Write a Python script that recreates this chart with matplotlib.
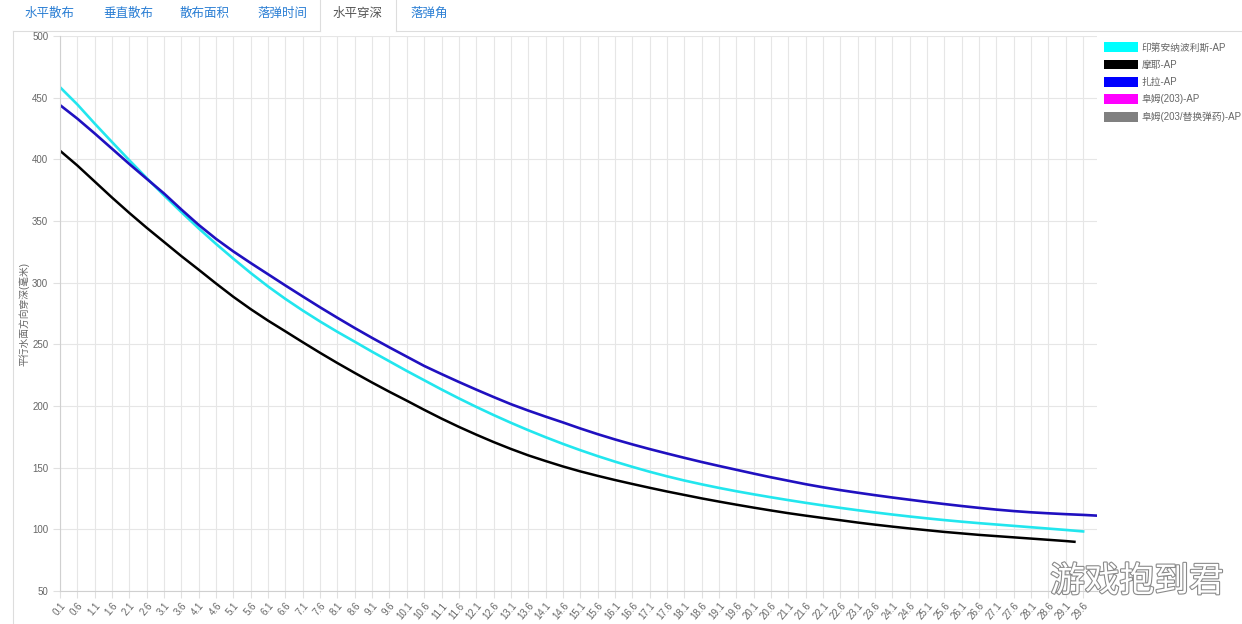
import matplotlib
matplotlib.use("Agg")
import matplotlib.pyplot as plt
from matplotlib.lines import Line2D
from matplotlib.patches import Patch
import matplotlib.patheffects as pe

plt.rcParams['font.family'] = ['Liberation Sans', 'Noto Sans CJK SC', 'DejaVu Sans']

# distance labels (km), one every 0.5 km as shown on the axis
dist = [round(0.1 + 0.5 * i, 1) for i in range(60)]  # 0.1 ... 29.6

# 印第安纳波利斯-AP, ends at 29.6
indy = [458.5, 444.5, 429, 414, 399.2, 384.8, 370.8, 357.2, 344.0, 331.4,
        319.4, 307.8, 296.9, 286.8, 277.4, 268.5, 260.1, 252.1, 244.0, 236.2,
        228.4, 220.9, 213.4, 206.2, 199.3, 192.7, 186.4, 180.4, 174.7, 169.3,
        164.2, 159.4, 154.9, 150.7, 146.7, 143.0, 139.6, 136.5, 133.6, 130.9,
        128.4, 126.0, 123.7, 121.5, 119.4, 117.4, 115.5, 113.7, 112.0, 110.4,
        108.9, 107.5, 106.2, 105.0, 103.9, 102.8, 101.7, 100.6, 99.5, 98.3]

# 摩耶-AP, ends at 29.35
maya = [407, 395, 382, 369, 356.5, 344.5, 333, 321.5, 310.5, 299.3,
        288.5, 278.5, 269.2, 260.5, 251.7, 243.1, 234.8, 226.8, 219.0, 211.5,
        204.3, 196.9, 189.8, 183.1, 176.8, 170.8, 165.2, 160.0, 155.4, 151.0,
        147.0, 143.4, 140.0, 136.8, 133.7, 130.7, 127.9, 125.1, 122.5, 120.0,
        117.6, 115.3, 113.1, 111.1, 109.2, 107.4, 105.5, 103.8, 102.2, 100.7,
        99.3, 97.9, 96.7, 95.5, 94.5, 93.5, 92.5, 91.5, 90.5]
maya_end = (29.35, 89.9)

# 扎拉-AP, ends at 30.0
zara = [444, 433, 421, 408.6, 396.2, 384.2, 372.3, 359.3, 346.8, 335.5,
        325.3, 315.9, 306.8, 297.7, 288.8, 280.0, 271.5, 263.2, 255.2, 247.5,
        240.0, 232.5, 225.9, 219.5, 213.3, 207.3, 201.5, 196.3, 191.4, 186.7,
        181.8, 177.2, 172.9, 168.9, 165.1, 161.5, 158.0, 154.6, 151.4, 148.3,
        145.2, 142.2, 139.4, 136.6, 134.1, 131.8, 129.7, 127.7, 125.8, 124.0,
        122.2, 120.5, 118.9, 117.4, 116.0, 114.8, 113.8, 113.0, 112.3, 111.7]
zara_end = (30.0, 111.1)

legend_labels = ["印第安纳波利斯-AP", "摩耶-AP", "扎拉-AP", "阜姆(203)-AP", "阜姆(203/替换弹药)-AP"]
legend_colors = ["#00ffff", "#000000", "#0000ff", "#ff00ff", "#808080"]

tabs = ["水平散布", "垂直散布", "散布面积", "落弹时间", "水平穿深", "落弹角"]
tab_x = [50, 128, 205, 282, 358, 429]
active_tab = 4

W, H = 1242, 624
fig = plt.figure(figsize=(W / 100, H / 100), dpi=100)
ax = fig.add_axes([60 / W, 1 - 591 / H, (1097 - 60) / W, (591 - 36) / H])

ax.plot(dist, indy, color="#22e6ee", lw=1.9)
ax.plot(dist[:59] + [maya_end[0]], maya + [maya_end[1]], color="#000000", lw=1.8)
ax.plot(dist + [zara_end[0]], zara + [zara_end[1]], color="#2010c0", lw=1.9)

ax.set_xlim(0.1, 30.0)
ax.set_ylim(50, 500)
ax.set_yticks(range(50, 501, 50))
ax.set_xticks(dist)
ax.set_xticklabels([f"{d:.1f}" for d in dist], rotation=50, ha="right",
                   rotation_mode="anchor")
ax.grid(True, color="#e6e6e6", lw=0.8)
ax.set_axisbelow(True)
for s in ["top", "right"]:
    ax.spines[s].set_visible(False)
for s in ["left", "bottom"]:
    ax.spines[s].set_color("#d0d0d0")
    ax.spines[s].set_linewidth(0.8)
ax.tick_params(axis="both", colors="#e0e0e0", labelcolor="#666666", labelsize=7,
               length=5, width=0.8)
ax.tick_params(axis="x", pad=2)
ax.set_ylabel("平行水面方向穿深(毫米)", fontsize=7, color="#666666", labelpad=2)

handles = [Patch(facecolor=c, edgecolor="none") for c in legend_colors]
fig.legend(handles, legend_labels, loc="upper left",
           bbox_to_anchor=(1100 / W, 1 - 38.5 / H), frameon=False, fontsize=7,
           handlelength=3.5, handleheight=1.15, handletextpad=0.35,
           labelspacing=0.74, labelcolor="#666666", borderaxespad=0)

# tab bar
for i, (t, x) in enumerate(zip(tabs, tab_x)):
    fig.text(x / W, 1 - 14 / H, t, ha="center", va="center", fontsize=9,
             color="#555555" if i == active_tab else "#2b7fd4")
line_c = "#dddddd"
fig.add_artist(Line2D([13 / W, 320 / W], [1 - 31 / H] * 2, color=line_c, lw=0.8))
fig.add_artist(Line2D([396 / W, 1], [1 - 31 / H] * 2, color=line_c, lw=0.8))
fig.add_artist(Line2D([320 / W] * 2, [1 - 31 / H, 1], color=line_c, lw=0.8))
fig.add_artist(Line2D([396 / W] * 2, [1 - 31 / H, 1], color=line_c, lw=0.8))
fig.add_artist(Line2D([13 / W] * 2, [0, 1 - 31 / H], color=line_c, lw=0.8))

# watermark
fig.text(1137 / W, 1 - 582 / H, "游戏抱到君", ha="center", va="center",
         fontsize=25, color="white", family=["Noto Sans CJK SC"],
         path_effects=[pe.withStroke(linewidth=1.6, foreground="#8a8a8a")])

fig.savefig("out.png", dpi=100)
